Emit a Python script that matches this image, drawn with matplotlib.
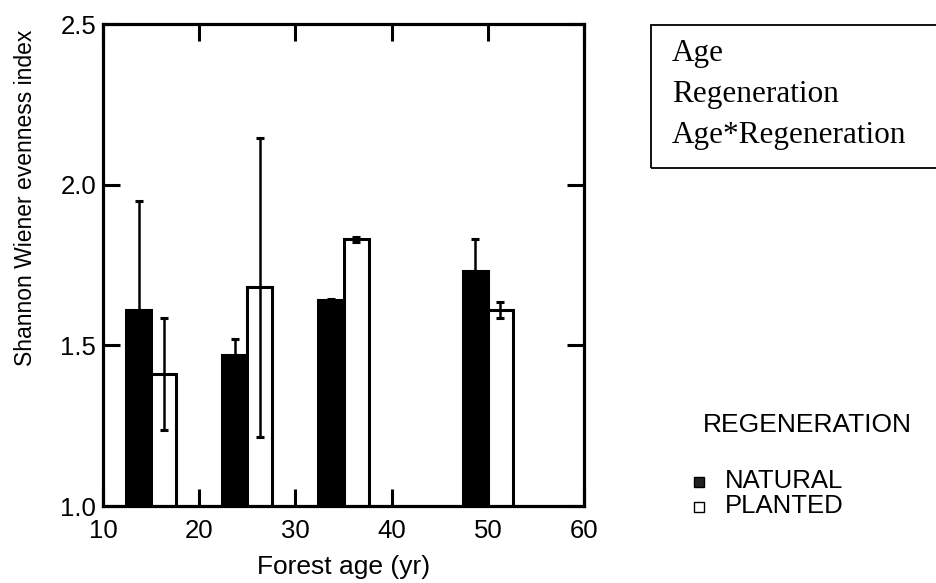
import numpy as np
import matplotlib
matplotlib.use('Agg')
import matplotlib.pyplot as plt
from matplotlib.patches import Rectangle
from matplotlib.lines import Line2D

# Shannon Wiener evenness by forest age and regeneration type
ages = [15, 25, 35, 50]
natural = [1.61, 1.47, 1.64, 1.73]
natural_err = [0.34, 0.05, 0.005, 0.10]
planted = [1.41, 1.68, 1.83, 1.61]
planted_err = [0.175, 0.465, 0.008, 0.025]

effects = ["Age", "Regeneration", "Age*Regeneration"]
legend_title = "REGENERATION"
legend_labels = ["NATURAL", "PLANTED"]

plt.rcParams['font.family'] = ['Liberation Sans', 'DejaVu Sans']

W, H = 936, 583
fig = plt.figure(figsize=(W / 100, H / 100), dpi=100)
ax = fig.add_axes([103 / W, 1 - 506 / H, 481 / W, 482 / H])

bw = 2.6
x = np.array(ages, dtype=float)
lw = 2.2

ax.bar(x - bw / 2, natural, width=bw, color='black', edgecolor='black',
       linewidth=lw, zorder=2)
ax.bar(x + bw / 2, planted, width=bw, color='white', edgecolor='black',
       linewidth=lw, zorder=2)

# natural bars are solid black, so only the upper half of the bar shows
ax.errorbar(x - bw / 2, natural, yerr=[np.zeros(len(natural)), natural_err],
            fmt='none', ecolor='black', elinewidth=1.8, capsize=2.6,
            capthick=2.2, zorder=3)
ax.errorbar(x + bw / 2, planted, yerr=planted_err, fmt='none', ecolor='black',
            elinewidth=1.8, capsize=2.6, capthick=2.2, zorder=3)

ax.set_xlim(10, 60)
ax.set_ylim(1.0, 2.5)
ax.set_xticks(np.arange(10, 61, 10))
ax.set_yticks([1.0, 1.5, 2.0, 2.5])
ax.set_yticklabels(["1.0", "1.5", "2.0", "2.5"])

ax.tick_params(direction='in', length=12, width=2.2, top=True, right=True,
               labelsize=18.5, colors='black')
ax.tick_params(axis='x', pad=9)
ax.tick_params(axis='y', pad=5)
for s in ax.spines.values():
    s.set_linewidth(2.3)

ax.set_xlabel("Forest age (yr)", fontsize=19, labelpad=9)
ax.set_ylabel("Shannon Wiener evenness index", fontsize=16.5)
ax.yaxis.set_label_coords(-0.137, 0.64)

# statistics box, upper right
fig.add_artist(Rectangle((651 / W, 1 - 168 / H), 300 / W, 143 / H,
                         transform=fig.transFigure, facecolor='none',
                         edgecolor='black', linewidth=1.3))
for label, yb in zip(effects, [61, 102, 143]):
    fig.text(672 / W, 1 - yb / H, label, family=['Liberation Serif', 'DejaVu Serif'],
             fontsize=22.5, va='baseline', ha='left')

# regeneration key
fig.text(703 / W, 1 - 432 / H, legend_title, fontsize=19, va='baseline', ha='left')
for label, fc, ym, yb in zip(legend_labels, ['#222222', 'white'], [482, 507], [488, 513]):
    fig.add_artist(Line2D([699 / W], [1 - ym / H], transform=fig.transFigure,
                          marker='s', markersize=7, markerfacecolor=fc,
                          markeredgecolor='black', markeredgewidth=1.0, linestyle='none'))
    fig.text(725 / W, 1 - yb / H, label, fontsize=18.5, va='baseline', ha='left')

fig.savefig("out.png", dpi=100)
